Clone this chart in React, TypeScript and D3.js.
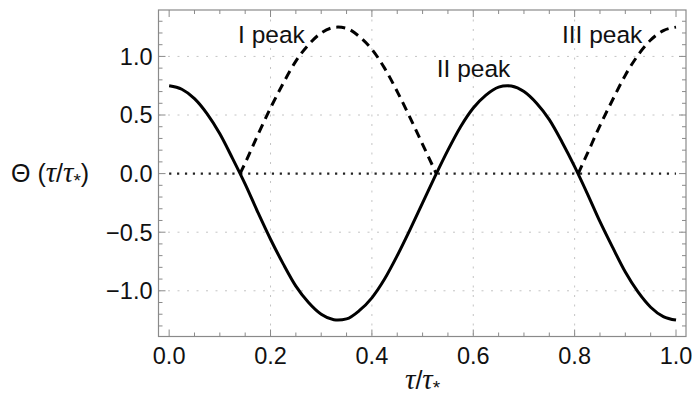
import * as d3 from "d3";

// solid curve: Θ(τ/τ*)
const tauSolid = [0, 0.025, 0.05, 0.075, 0.1, 0.125, 0.15, 0.175, 0.2, 0.225, 0.25, 0.275, 0.3, 0.325, 0.333, 0.35, 0.375, 0.4, 0.425, 0.45, 0.475, 0.5, 0.525, 0.55, 0.575, 0.6, 0.625, 0.65, 0.667, 0.675, 0.7, 0.725, 0.75, 0.775, 0.8, 0.825, 0.85, 0.875, 0.9, 0.925, 0.95, 0.975, 1.0];
const thetaSolid = [0.75, 0.72, 0.64, 0.51, 0.34, 0.13, -0.09, -0.33, -0.56, -0.77, -0.96, -1.10, -1.20, -1.247, -1.25, -1.24, -1.17, -1.06, -0.90, -0.70, -0.48, -0.25, -0.02, 0.20, 0.40, 0.56, 0.67, 0.738, 0.75, 0.747, 0.70, 0.60, 0.46, 0.27, 0.06, -0.17, -0.41, -0.63, -0.84, -1.01, -1.14, -1.22, -1.25];

// dashed: first peak (reflected part)
const tauPeakI = [0.14, 0.15, 0.175, 0.2, 0.225, 0.25, 0.275, 0.3, 0.325, 0.333, 0.35, 0.375, 0.4, 0.425, 0.45, 0.475, 0.5, 0.527];
const thetaPeakI = [0, 0.09, 0.33, 0.56, 0.77, 0.96, 1.10, 1.20, 1.247, 1.25, 1.24, 1.17, 1.06, 0.90, 0.70, 0.48, 0.25, 0];

// dashed: third peak
const tauPeakIII = [0.807, 0.825, 0.85, 0.875, 0.9, 0.925, 0.95, 0.975, 1.0];
const thetaPeakIII = [0, 0.17, 0.41, 0.63, 0.84, 1.01, 1.14, 1.22, 1.25];

// dotted zero line
const tauZero = [0, 1];
const thetaZero = [0, 0];

const xTicks = [0, 0.2, 0.4, 0.6, 0.8, 1.0];
const xTickLabels = ["0.0", "0.2", "0.4", "0.6", "0.8", "1.0"];
const yTicks = [-1, -0.5, 0, 0.5, 1];
const yTickLabels = ["\u22121.0", "\u22120.5", "0.0", "0.5", "1.0"];

const peakLabels = ["I peak", "II peak", "III peak"];
const peakTau = [0.136, 0.528, 0.775];
const peakTheta = [1.114, 0.824, 1.114];

const W = 692;
const H = 405;
const plot = { left: 158.5, right: 686, top: 10, bottom: 336.5 };
const sans = "'Liberation Sans', Arial, sans-serif";
const serif = "'Liberation Serif', 'Times New Roman', serif";

const App = () => {
  const x = d3.scaleLinear().domain([-0.021, 1.0197]).range([plot.left, plot.right]);
  const y = d3.scaleLinear().domain([-1.39, 1.396]).range([plot.bottom, plot.top]);

  const line = d3
    .line<[number, number]>()
    .x((d) => x(d[0]))
    .y((d) => y(d[1]))
    .curve(d3.curveMonotoneX);

  const zip = (a: number[], b: number[]) => a.map((t, i) => [t, b[i]] as [number, number]);

  const xMinor = d3.range(0, 1.0001, 0.05).filter((v) => !xTicks.some((t) => Math.abs(t - v) < 1e-6));
  const yMinor = d3.range(-1.3, 1.3001, 0.1).filter((v) => !yTicks.some((t) => Math.abs(t - v) < 1e-6));

  const frame = "#8a8a8a";
  const major = 7;
  const minor = 4;

  return (
    <div style={{ position: "absolute", left: 0, top: 0 }}>
      <svg width={W} height={H} style={{ display: "block", background: "#fff" }}>
        {/* grid */}
        {xTicks.filter((t) => t > 0 && t < 1).map((t) => (
          <line key={"gx" + t} x1={x(t)} x2={x(t)} y1={plot.top} y2={plot.bottom}
            stroke="#c4c4c4" strokeWidth={1} strokeDasharray="2,7.5" />
        ))}
        {yTicks.filter((t) => t !== 0).map((t) => (
          <line key={"gy" + t} x1={plot.left} x2={plot.right} y1={y(t)} y2={y(t)}
            stroke="#c4c4c4" strokeWidth={1} strokeDasharray="2,7.5" />
        ))}

        {/* zero line */}
        <path d={line(zip(tauZero, thetaZero)) || ""} fill="none" stroke="#222"
          strokeWidth={2.2} strokeDasharray="2.2,5.7" />

        {/* curves */}
        <path d={line(zip(tauPeakI, thetaPeakI)) || ""} fill="none" stroke="#000"
          strokeWidth={3} strokeDasharray="9,6" />
        <path d={line(zip(tauPeakIII, thetaPeakIII)) || ""} fill="none" stroke="#000"
          strokeWidth={3} strokeDasharray="9,6" />
        <path d={line(zip(tauSolid, thetaSolid)) || ""} fill="none" stroke="#000"
          strokeWidth={3} strokeLinejoin="round" />

        {/* frame */}
        <rect x={plot.left} y={plot.top} width={plot.right - plot.left} height={plot.bottom - plot.top}
          fill="none" stroke={frame} strokeWidth={1.2} />

        {/* ticks */}
        {xTicks.map((t) => (
          <g key={"xt" + t} stroke={frame} strokeWidth={1}>
            <line x1={x(t)} x2={x(t)} y1={plot.bottom} y2={plot.bottom - major} />
            <line x1={x(t)} x2={x(t)} y1={plot.top} y2={plot.top + major} />
          </g>
        ))}
        {xMinor.map((t) => (
          <g key={"xm" + t} stroke={frame} strokeWidth={1}>
            <line x1={x(t)} x2={x(t)} y1={plot.bottom} y2={plot.bottom - minor} />
            <line x1={x(t)} x2={x(t)} y1={plot.top} y2={plot.top + minor} />
          </g>
        ))}
        {yTicks.map((t) => (
          <g key={"yt" + t} stroke={frame} strokeWidth={1}>
            <line x1={plot.left} x2={plot.left + major} y1={y(t)} y2={y(t)} />
            <line x1={plot.right} x2={plot.right - major} y1={y(t)} y2={y(t)} />
          </g>
        ))}
        {yMinor.map((t) => (
          <g key={"ym" + t} stroke={frame} strokeWidth={1}>
            <line x1={plot.left} x2={plot.left + minor} y1={y(t)} y2={y(t)} />
            <line x1={plot.right} x2={plot.right - minor} y1={y(t)} y2={y(t)} />
          </g>
        ))}

        {/* tick labels */}
        {xTicks.map((t, i) => (
          <text key={"xl" + t} x={x(t)} y={363.5} textAnchor="middle" fontFamily={sans} fontSize={23.5} fill="#111">
            {xTickLabels[i]}
          </text>
        ))}
        {yTicks.map((t, i) => (
          <text key={"yl" + t} x={152.5} y={y(t) + 8.4} textAnchor="end" fontFamily={sans} fontSize={23.5} fill="#111">
            {yTickLabels[i]}
          </text>
        ))}

        {/* peak labels */}
        {peakLabels.map((s, i) => (
          <text key={s} x={x(peakTau[i])} y={y(peakTheta[i])} fontFamily={sans} fontSize={24.5} fill="#111">
            {s}
          </text>
        ))}

        {/* axis labels */}
        <text x={11} y={181.5} fontFamily={sans} fontSize={25} fill="#111">
          Θ (<tspan fontFamily={serif} fontStyle="italic" fontSize={29}>τ</tspan>/<tspan fontFamily={serif} fontStyle="italic" fontSize={29}>τ</tspan>
          <tspan fontSize={19} dy={5}>*</tspan>
          <tspan dy={-5}>)</tspan>
        </text>
        <text x={405} y={389} fontFamily={sans} fontSize={25} fill="#111">
          <tspan fontFamily={serif} fontStyle="italic" fontSize={29}>τ</tspan>/<tspan fontFamily={serif} fontStyle="italic" fontSize={29}>τ</tspan>
          <tspan fontSize={19} dy={5}>*</tspan>
        </text>
      </svg>
    </div>
  );
};

export default App;
